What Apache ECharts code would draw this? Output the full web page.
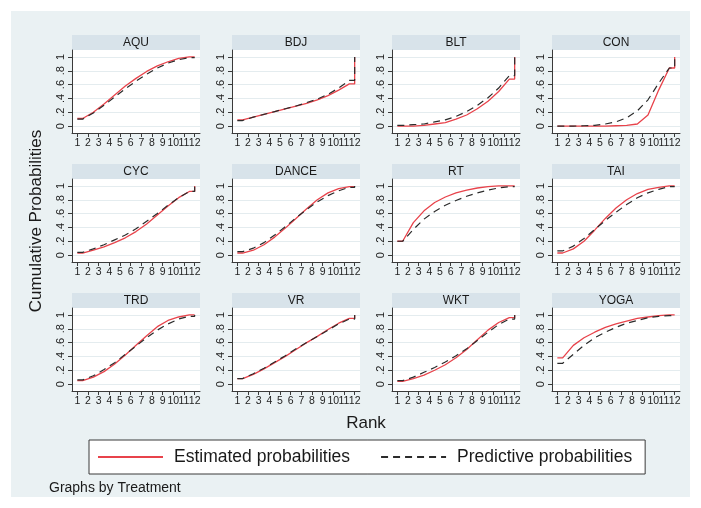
<!DOCTYPE html>
<html><head><meta charset="utf-8">
<script src="https://cdn.jsdelivr.net/npm/echarts@6/dist/echarts.min.js"></script>
<style>html,body{margin:0;padding:0;background:#fff}#c{width:701px;height:508px}</style>
</head><body><div id="c"></div>
<script>
// ---- data ----
const treatments = ['AQU','BDJ','BLT','CON','CYC','DANCE','RT','TAI','TRD','VR','WKT','YOGA'];
const ranks = [1,2,3,4,5,6,7,8,9,10,11,12];
const oddRanks = [1,3,5,7,9,11];
const evenRanks = [2,4,6,8,10,12];
const yTicks = [0,0.2,0.4,0.6,0.8,1];
const yTickLabels = ['0','.2','.4','.6','.8','1'];
const seriesNames = ['Estimated probabilities','Predictive probabilities'];
// cumulative probability of rank <= k, k = 1..12
const estAQU   = [0.11,0.20,0.32,0.45,0.58,0.69,0.79,0.87,0.93,0.98,1.00,1];
const predAQU  = [0.10,0.19,0.30,0.42,0.54,0.65,0.75,0.84,0.91,0.96,0.99,1];
const estBDJ   = [0.09,0.13,0.17,0.21,0.25,0.29,0.33,0.38,0.44,0.52,0.61,1];
const predBDJ  = [0.08,0.13,0.17,0.21,0.25,0.29,0.34,0.39,0.46,0.55,0.66,1];
const estBLT   = [0.00,0.00,0.01,0.03,0.05,0.10,0.16,0.25,0.36,0.50,0.68,1];
const predBLT  = [0.01,0.02,0.03,0.06,0.09,0.14,0.21,0.30,0.41,0.55,0.73,1];
const estCON   = [0.00,0.00,0.00,0.00,0.00,0.005,0.01,0.03,0.16,0.52,0.84,1];
const predCON  = [0.00,0.00,0.005,0.01,0.03,0.06,0.12,0.22,0.38,0.62,0.84,1];
const estCYC   = [0.03,0.07,0.12,0.18,0.25,0.34,0.45,0.58,0.71,0.83,0.92,1];
const predCYC  = [0.04,0.09,0.15,0.22,0.29,0.38,0.49,0.60,0.72,0.83,0.92,1];
const estDANCE = [0.03,0.07,0.15,0.26,0.39,0.53,0.67,0.80,0.90,0.96,0.99,1];
const predDANCE= [0.05,0.10,0.18,0.29,0.41,0.54,0.66,0.77,0.86,0.93,0.98,1];
const estRT    = [0.20,0.47,0.64,0.76,0.84,0.90,0.94,0.97,0.99,1.00,1.00,1];
const predRT   = [0.20,0.37,0.52,0.63,0.72,0.79,0.85,0.90,0.94,0.97,0.99,1];
const estTAI   = [0.03,0.09,0.20,0.36,0.53,0.68,0.80,0.89,0.95,0.98,1.00,1];
const predTAI  = [0.06,0.13,0.24,0.37,0.50,0.62,0.73,0.83,0.90,0.95,0.99,1];
const estTRD   = [0.05,0.10,0.18,0.29,0.42,0.56,0.70,0.83,0.92,0.97,1.00,1];
const predTRD  = [0.06,0.12,0.21,0.31,0.43,0.55,0.67,0.78,0.87,0.94,0.98,1];
const estVR    = [0.08,0.14,0.22,0.31,0.40,0.50,0.60,0.69,0.79,0.88,0.95,1];
const predVR   = [0.08,0.15,0.23,0.32,0.41,0.51,0.60,0.69,0.78,0.87,0.94,1];
const estWKT   = [0.04,0.08,0.13,0.20,0.28,0.38,0.50,0.64,0.78,0.89,0.96,1];
const predWKT  = [0.05,0.10,0.17,0.24,0.32,0.41,0.51,0.63,0.75,0.86,0.94,1];
const estYOGA  = [0.38,0.56,0.67,0.75,0.82,0.87,0.91,0.95,0.97,0.99,1.00,1];
const predYOGA = [0.30,0.43,0.56,0.67,0.75,0.82,0.88,0.92,0.96,0.98,0.99,1];

const estimated = [estAQU,estBDJ,estBLT,estCON,estCYC,estDANCE,estRT,estTAI,estTRD,estVR,estWKT,estYOGA];
const predictive = [predAQU,predBDJ,predBLT,predCON,predCYC,predDANCE,predRT,predTAI,predTRD,predVR,predWKT,predYOGA];

// ---- layout ----
const colLeft = [72,232,392,552];
const headerTop = [35,164,293];
const panelW = 128, headerH = 15, plotH = 83;
const FONT = '"Liberation Sans", Arial, sans-serif';
const RED = '#e8434b', DARK = '#2b2b2b', AXIS = '#3a3a3a';

// step-style curve: rank k plotted at k+0.5, flat lead-in from rank 1, jump at rank 12
function toPoints(vals){
  const pts = [[ranks[0], vals[0]]];
  for (let k = 0; k < 11; k++) pts.push([ranks[k] + 0.5, vals[k]]);
  pts.push([ranks[11], vals[10]]);
  pts.push([ranks[11], vals[11]]);
  return pts;
}
function yLab(v){
  let best = 0;
  yTicks.forEach((t,i)=>{ if (Math.abs(t-v) < Math.abs(yTicks[best]-v)) best = i; });
  return yTickLabels[best];
}

const grids = [], xAxes = [], yAxes = [], series = [];
const graphics = [{type:'rect', z:-100, shape:{x:11,y:11,width:679,height:486}, style:{fill:'#eaf1f3'}}];
const xLabelStyle = {fontSize:10.5, fontFamily:FONT, color:'#222', margin:5, hideOverlap:false, showMaxLabel:true, showMinLabel:true};

treatments.forEach((t,i)=>{
  const c = i % 4, r = Math.floor(i / 4);
  const left = colLeft[c], top = headerTop[r] + headerH;
  grids.push({left:left, top:top, width:panelW, height:plotH, show:true, backgroundColor:'#ffffff', borderWidth:0, containLabel:false});
  // main x axis: line, all ticks, odd-rank labels
  xAxes.push({gridIndex:i, type:'value', min:0.5, max:12.5, position:'bottom',
    axisLine:{show:true, onZero:false, lineStyle:{color:AXIS, width:1}},
    axisTick:{show:true, customValues:ranks, length:4, lineStyle:{color:AXIS}},
    axisLabel:Object.assign({customValues:oddRanks}, xLabelStyle),
    splitLine:{show:false}});
  // companion x axis: even-rank labels only
  xAxes.push({gridIndex:i, type:'value', min:0.5, max:12.5, position:'bottom',
    axisLine:{show:false, onZero:false}, axisTick:{show:false, length:4},
    axisLabel:Object.assign({customValues:evenRanks}, xLabelStyle),
    splitLine:{show:false}});
  yAxes.push({gridIndex:i, type:'value', min:-0.1, max:1.1,
    axisLine:{show:true, onZero:false, lineStyle:{color:AXIS, width:1}},
    axisTick:{show:true, customValues:yTicks, length:4, lineStyle:{color:AXIS}},
    axisLabel:{customValues:yTicks, formatter:yLab, rotate:90, fontSize:11, fontFamily:FONT, color:'#222', margin:6, hideOverlap:false},
    splitLine:{show:true, lineStyle:{color:'#e4ecef', width:1}}});
  series.push({name:seriesNames[0], type:'line', xAxisIndex:2*i, yAxisIndex:i, data:toPoints(estimated[i]),
    symbol:'none', showSymbol:false, lineStyle:{color:RED, width:1.3}, itemStyle:{color:RED}, z:2, animation:false});
  series.push({name:seriesNames[1], type:'line', xAxisIndex:2*i, yAxisIndex:i, data:toPoints(predictive[i]),
    symbol:'none', showSymbol:false, lineStyle:{color:DARK, width:1.2, type:[7,5]}, itemStyle:{color:DARK}, z:3, animation:false});
  graphics.push({type:'rect', shape:{x:left, y:headerTop[r], width:panelW, height:headerH}, style:{fill:'#d8e3ea'}});
  graphics.push({type:'text', x:left + panelW/2, y:headerTop[r] + headerH/2 + 0.5,
    style:{text:t, textAlign:'center', textVerticalAlign:'middle', fontSize:12, fontFamily:FONT, fill:'#1a1a1a'}});
});

graphics.push({type:'text', x:36, y:221, rotation:Math.PI/2,
  style:{text:'Cumulative Probabilities', textAlign:'center', textVerticalAlign:'middle', fontSize:17, fontFamily:FONT, fill:'#1a1a1a'}});
graphics.push({type:'text', x:366, y:423,
  style:{text:'Rank', textAlign:'center', textVerticalAlign:'middle', fontSize:17, fontFamily:FONT, fill:'#1a1a1a'}});
graphics.push({type:'text', x:49, y:488,
  style:{text:'Graphs by Treatment', textAlign:'left', textVerticalAlign:'middle', fontSize:14, fontFamily:FONT, fill:'#1a1a1a'}});

const chart = echarts.init(document.getElementById('c'), null, {renderer:'canvas'});
chart.setOption({
  animation:false,
  backgroundColor:'#ffffff',
  grid:grids, xAxis:xAxes, yAxis:yAxes, series:series,
  legend:{data:seriesNames, left:89, top:440, orient:'horizontal', selectedMode:false,
    backgroundColor:'#ffffff', borderColor:'#3a3a3a', borderWidth:1, padding:[8,13,8,8],
    itemWidth:65, itemHeight:14, itemGap:30, itemStyle:{opacity:0},
    textStyle:{fontSize:17.5, fontFamily:FONT, color:'#1a1a1a', padding:[0,0,0,6]}},
  graphic:graphics
});
</script></body></html>
